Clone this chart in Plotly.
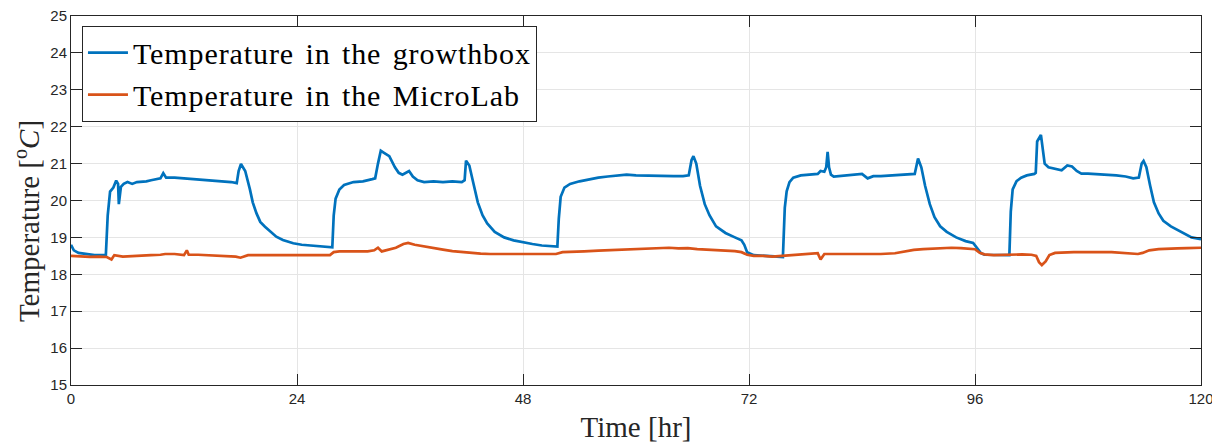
import plotly.graph_objects as go

# Blue series: temperature in the growthbox (hour, °C)
growth_t = [0.0, 0.3, 0.8, 1.5, 2.5, 3.5, 3.7, 3.9, 4.15, 4.5, 4.8, 5.0, 5.08, 5.3, 5.6, 6.0, 6.5, 7.0, 7.6, 8.0, 8.5, 9.0, 9.5, 9.8, 10.1, 11.0, 12.0, 13.0, 14.0, 15.0, 16.0, 17.0, 17.6, 17.8, 18.05, 18.5, 19.0, 19.3, 19.7, 20.1, 20.6, 21.0, 21.8, 22.5, 23.6, 24.5, 25.5, 26.5, 27.5, 27.75,
            27.9, 28.1, 28.5, 29.0, 30.0, 31.0, 32.0, 32.3, 32.6, 32.9, 33.2, 33.8, 34.4, 34.8, 35.2, 35.9, 36.3, 36.8, 37.5, 38.5, 39.5, 40.5, 41.5, 41.8, 41.95, 42.3, 42.7, 43.2, 43.7, 44.2, 45.0, 46.0, 47.0, 48.0, 49.0, 50.0, 51.0, 51.65,
            51.8, 52.0, 52.4, 53.0, 54.0, 55.0, 56.0, 57.0, 58.0, 59.0, 60.0, 61.0, 62.0, 63.0, 64.0, 65.0, 65.6, 65.9, 66.1, 66.4, 66.8, 67.3, 67.8, 68.5, 69.5, 70.5, 71.2, 71.5, 71.8, 72.5, 73.5, 74.5, 75.6,
            75.8, 76.0, 76.3, 76.7, 77.5, 78.5, 79.3, 79.6, 80.0, 80.2, 80.35, 80.5, 80.7, 81.0, 82.0, 83.0, 84.0, 84.6, 85.2, 86.0, 87.0, 88.0, 89.0, 89.6, 89.95, 90.3, 90.7, 91.2, 91.7, 92.3, 93.0, 94.0, 95.0, 95.8, 96.2, 96.6, 97.0, 98.0, 99.0, 99.65,
            99.8, 100.0, 100.4, 100.9, 101.5, 102.3, 102.45, 102.6, 103.0, 103.2, 103.4, 103.8, 104.5, 105.2, 105.8, 106.3, 106.8, 107.3, 108.0, 109.0, 110.0, 111.0, 112.0, 112.8, 113.4, 113.7, 113.9, 114.2, 114.6, 115.0, 115.5, 116.0, 116.8, 117.5, 118.3, 119.0, 120.0]
growth_v = [18.80, 18.65, 18.58, 18.55, 18.52, 18.52, 18.52, 19.6, 20.24, 20.35, 20.54, 20.45, 19.9, 20.37, 20.45, 20.5, 20.45, 20.5, 20.51, 20.52, 20.55, 20.58, 20.6, 20.74, 20.62, 20.62, 20.6, 20.57, 20.55, 20.55, 20.52, 20.5, 20.47, 20.8, 20.99, 20.8, 20.3, 19.95, 19.65, 19.42, 19.29, 19.2, 19.02, 18.93, 18.84, 18.8, 18.78, 18.76, 18.73, 18.73,
            19.6, 20.05, 20.3, 20.42, 20.5, 20.52, 20.58, 20.6, 21.0, 21.35, 21.3, 21.2, 20.9, 20.75, 20.7, 20.8, 20.65, 20.55, 20.5, 20.52, 20.5, 20.52, 20.5, 20.55, 21.08, 20.95, 20.5, 19.95, 19.6, 19.38, 19.15, 19.0, 18.92, 18.86, 18.82, 18.78, 18.76, 18.75,
            19.5, 20.1, 20.35, 20.45, 20.52, 20.58, 20.62, 20.65, 20.68, 20.7, 20.68, 20.67, 20.66, 20.65, 20.66, 20.66, 20.68, 21.1, 21.2, 21.0, 20.4, 19.9, 19.6, 19.3, 19.12, 19.0, 18.92, 18.8, 18.6, 18.52, 18.5, 18.48, 18.47,
            19.8, 20.25, 20.5, 20.62, 20.68, 20.7, 20.72, 20.8, 20.78, 20.9, 21.32, 20.9, 20.7, 20.65, 20.68, 20.7, 20.72, 20.6, 20.66, 20.66, 20.68, 20.7, 20.7, 20.72, 21.14, 20.9, 20.4, 19.9, 19.55, 19.3, 19.15, 19.0, 18.9, 18.85, 18.72, 18.58, 18.53, 18.52, 18.52, 18.52,
            19.7, 20.3, 20.52, 20.62, 20.68, 20.72, 20.75, 21.6, 21.78, 21.4, 21.0, 20.9, 20.85, 20.82, 20.95, 20.92, 20.8, 20.73, 20.73, 20.72, 20.7, 20.68, 20.65, 20.6, 20.62, 21.0, 21.07, 20.9, 20.4, 19.95, 19.65, 19.45, 19.3, 19.2, 19.08, 19.0, 18.95]

# Orange series: temperature in the MicroLab (hour, °C)
lab_t = [0.0, 1.0, 2.0, 3.0, 3.8, 4.3, 4.6, 5.5, 6.5, 7.5, 8.5, 9.5, 10.0, 11.0, 12.0, 12.3, 12.5, 13.5, 14.5, 15.5, 16.5, 17.5, 18.0, 18.8, 20.0, 22.0, 24.0, 26.0, 27.5, 27.9, 28.5, 29.5, 30.5, 31.5, 32.2, 32.6, 33.0, 33.8, 34.5, 35.3, 35.8, 36.5, 37.5, 38.5, 39.5, 40.5, 41.5, 42.5, 43.5, 44.5, 46.0, 47.5, 49.0, 50.5, 51.5, 52.2, 53.0, 54.5, 56.0, 57.5, 59.0, 60.5, 62.0, 63.5, 64.5, 65.5, 66.5, 67.5, 69.0, 70.5, 71.2, 71.8, 72.5, 73.5, 74.5, 75.5, 76.5, 77.5, 78.5, 79.3, 79.6, 80.0, 81.0, 82.0, 83.0, 84.0, 85.0, 86.0, 87.5, 88.5, 89.5, 90.5, 91.5, 92.5, 93.5, 94.5, 95.5, 96.0, 96.5, 97.0, 98.0, 99.0, 100.0, 101.0, 102.0, 102.5, 102.8, 103.1, 103.5, 103.9, 104.5, 105.5, 106.5, 107.5, 108.5, 109.5, 110.5, 111.5, 112.5, 113.3, 113.8, 114.5, 115.5, 116.5, 117.5, 118.5, 119.5, 120.0]
lab_v = [18.5, 18.48, 18.47, 18.48, 18.47, 18.4, 18.52, 18.48, 18.5, 18.5, 18.52, 18.53, 18.55, 18.55, 18.52, 18.65, 18.53, 18.53, 18.52, 18.52, 18.5, 18.48, 18.45, 18.52, 18.52, 18.52, 18.52, 18.52, 18.52, 18.6, 18.62, 18.62, 18.63, 18.62, 18.65, 18.72, 18.62, 18.67, 18.72, 18.82, 18.85, 18.8, 18.75, 18.7, 18.67, 18.63, 18.6, 18.57, 18.56, 18.55, 18.55, 18.54, 18.53, 18.53, 18.55, 18.6, 18.6, 18.62, 18.64, 18.66, 18.68, 18.69, 18.7, 18.72, 18.7, 18.71, 18.68, 18.66, 18.65, 18.63, 18.6, 18.53, 18.5, 18.5, 18.48, 18.5, 18.52, 18.53, 18.55, 18.57, 18.4, 18.55, 18.55, 18.55, 18.54, 18.55, 18.55, 18.55, 18.57, 18.62, 18.66, 18.68, 18.7, 18.71, 18.72, 18.71, 18.7, 18.68, 18.58, 18.54, 18.52, 18.53, 18.55, 18.54, 18.53, 18.5, 18.33, 18.25, 18.35, 18.52, 18.58, 18.6, 18.6, 18.6, 18.61, 18.6, 18.6, 18.58, 18.58, 18.55, 18.58, 18.65, 18.68, 18.7, 18.7, 18.71, 18.72, 18.72]

series_names = ["Temperature in the growthbox", "Temperature in the MicroLab"]
x_ticks = [0, 24, 48, 72, 96, 120]
y_ticks = [15, 16, 17, 18, 19, 20, 21, 22, 23, 24, 25]

serif = "Liberation Serif, Times New Roman, serif"
sans = "Liberation Sans, Arial, sans-serif"
axcol = "#262626"
wide = '<span style="letter-spacing:0.9px;word-spacing:3px">{}</span>'

fig = go.Figure()
fig.add_trace(go.Scatter(x=growth_t, y=growth_v, mode="lines",
                         name=wide.format(series_names[0]),
                         line=dict(color="#0072BD", width=2.7)))
fig.add_trace(go.Scatter(x=lab_t, y=lab_v, mode="lines",
                         name=wide.format(series_names[1]),
                         line=dict(color="#D95319", width=2.7)))

axis_common = dict(showline=True, linecolor=axcol, linewidth=1, mirror="ticks",
                   ticks="inside", ticklen=11, tickcolor=axcol, tickwidth=1,
                   showgrid=True, gridcolor="#e5e5e5", gridwidth=1, zeroline=False,
                   automargin=False, ticklabeloverflow="allow",
                   tickfont=dict(family=sans, size=15, color=axcol))

# The page body has an 8px margin, so the figure is sized to fit the 1220x443 window.
fig.update_layout(
    width=1212, height=435,
    margin=dict(l=63, r=19, t=8, b=58),
    paper_bgcolor="white", plot_bgcolor="white",
    showlegend=True,
    legend=dict(x=0.0097, y=0.974, xanchor="left", yanchor="top",
                bgcolor="white", bordercolor="#262626", borderwidth=1,
                font=dict(family=serif, size=30, color="black"),
                tracegroupgap=0, itemwidth=40),
    xaxis=dict(range=[0, 120], tickvals=x_ticks,
               title=dict(text="Time [hr]", font=dict(family=serif, size=29, color=axcol), standoff=11),
               **axis_common),
    yaxis=dict(range=[15, 25], tickvals=y_ticks, **axis_common),
    annotations=[dict(text="Temperature [<sup>o</sup><i>C</i>]", textangle=-90,
                      xref="paper", yref="paper", x=-0.039, y=0.444,
                      xanchor="center", yanchor="middle", showarrow=False,
                      font=dict(family=serif, size=29, color=axcol))],
)

fig.write_html("out.html")
